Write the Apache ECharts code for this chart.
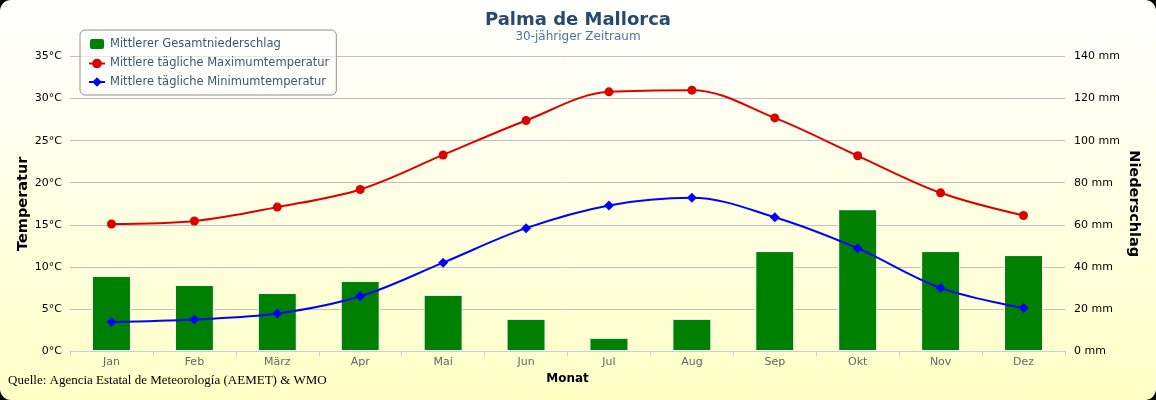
<!DOCTYPE html>
<html>
<head>
<meta charset="utf-8">
<script src="https://cdn.jsdelivr.net/npm/echarts@6/dist/echarts.min.js"></script>
<style>
html,body{margin:0;padding:0;background:#000;}
#c{width:1156px;height:400px;border-radius:11px;overflow:hidden;background:linear-gradient(to bottom,#ffffff 0%,#fffff0 30%,#ffffc6 100%);}
</style>
</head>
<body>
<div id="c"></div>
<script>
const months = ['Jan','Feb','März','Apr','Mai','Jun','Jul','Aug','Sep','Okt','Nov','Dez'];
const precipitation = [35.7, 31.4, 27.6, 33.3, 26.7, 15.3, 6.3, 15.3, 47.5, 67.4, 47.5, 45.6];
const maxTemp = [15.1, 15.45, 17.1, 19.2, 23.3, 27.4, 30.8, 31.0, 27.7, 23.2, 18.8, 16.1];
const minTemp = [3.45, 3.75, 4.45, 6.5, 10.5, 14.6, 17.3, 18.2, 15.9, 12.2, 7.5, 5.1];
const tempTicks = {min: 0, max: 35, interval: 5};
const precTicks = {min: 0, max: 140, interval: 20};

const font = 'DejaVu Sans';
const chart = echarts.init(document.getElementById('c'), null, {renderer: 'canvas'});
chart.setOption({
  backgroundColor: 'transparent',
  animation: false,
  textStyle: {fontFamily: font},
  title: {
    text: 'Palma de Mallorca',
    subtext: '30-jähriger Zeitraum',
    left: 'center',
    top: 6,
    itemGap: 2,
    textStyle: {fontFamily: font, fontSize: 18, fontWeight: 'bold', color: '#274b6d'},
    subtextStyle: {fontFamily: font, fontSize: 12, color: '#4d759e'}
  },
  legend: {
    orient: 'vertical',
    left: 80,
    top: 30,
    padding: [7, 7, 7, 8],
    itemGap: 6.5,
    itemWidth: 16,
    itemHeight: 12,
    borderColor: '#909090',
    borderWidth: 1,
    borderRadius: 5,
    backgroundColor: 'rgba(255,255,255,0.6)',
    textStyle: {fontFamily: font, fontSize: 11.5, color: '#3e576f'},
    data: [
      {name: 'Mittlerer Gesamtniederschlag', icon: 'roundRect'},
      {name: 'Mittlere tägliche Maximumtemperatur'},
      {name: 'Mittlere tägliche Minimumtemperatur'}
    ]
  },
  grid: {left: 70, right: 91, top: 56.5, bottom: 49},
  xAxis: {
    type: 'category',
    data: months,
    name: 'Monat',
    nameLocation: 'middle',
    nameGap: 22,
    nameMoveOverlap: false,
    nameTextStyle: {fontFamily: font, fontSize: 12, fontWeight: 'bold', color: '#000'},
    axisLine: {lineStyle: {color: '#c0d0e0', width: 1}},
    axisTick: {show: true, alignWithLabel: false, length: 5, lineStyle: {color: '#c0d0e0'}},
    axisLabel: {fontFamily: font, fontSize: 11, color: '#666', margin: 6}
  },
  yAxis: [
    {
      type: 'value',
      min: tempTicks.min, max: tempTicks.max, interval: tempTicks.interval,
      name: 'Temperatur',
      nameLocation: 'middle',
      nameGap: 39,
      nameRotate: 90,
      nameMoveOverlap: false,
      nameTextStyle: {fontFamily: font, fontSize: 14.5, fontWeight: 'bold', color: '#000'},
      axisLine: {show: false},
      axisTick: {show: false},
      axisLabel: {formatter: '{value}°C', fontFamily: font, fontSize: 11, color: '#000', margin: 8},
      splitLine: {lineStyle: {color: '#c0c0c0', width: 1}}
    },
    {
      type: 'value',
      min: precTicks.min, max: precTicks.max, interval: precTicks.interval,
      name: 'Niederschlag',
      nameLocation: 'middle',
      nameGap: 61,
      nameRotate: -90,
      nameMoveOverlap: false,
      nameTextStyle: {fontFamily: font, fontSize: 14.5, fontWeight: 'bold', color: '#000'},
      axisLine: {show: false},
      axisTick: {show: false},
      axisLabel: {formatter: '{value} mm', fontFamily: font, fontSize: 11, color: '#000', margin: 9},
      splitLine: {show: false}
    }
  ],
  series: [
    {
      name: 'Mittlerer Gesamtniederschlag',
      type: 'bar',
      yAxisIndex: 1,
      data: precipitation,
      barWidth: 39,
      itemStyle: {color: '#008000', borderColor: '#ffffff', borderWidth: 1},
      z: 1
    },
    {
      name: 'Mittlere tägliche Maximumtemperatur',
      type: 'line',
      yAxisIndex: 0,
      data: maxTemp,
      smooth: 0.35,
      symbol: 'circle',
      symbolSize: 9,
      lineStyle: {color: '#dd0000', width: 2},
      itemStyle: {color: '#dd0000'},
      z: 3
    },
    {
      name: 'Mittlere tägliche Minimumtemperatur',
      type: 'line',
      yAxisIndex: 0,
      data: minTemp,
      smooth: 0.35,
      symbol: 'diamond',
      symbolSize: 10,
      lineStyle: {color: '#0000ff', width: 2},
      itemStyle: {color: '#0000ff'},
      z: 3
    }
  ],
  graphic: [{
    type: 'text',
    left: 8,
    top: 374,
    style: {text: 'Quelle: Agencia Estatal de Meteorología (AEMET) & WMO', font: '13px "Liberation Serif"', fill: '#000'}
  }]
});
</script>
</body>
</html>
